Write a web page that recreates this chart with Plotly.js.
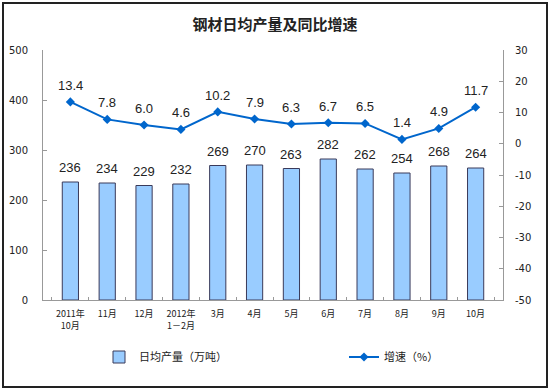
<!DOCTYPE html>
<html>
<head>
<meta charset="utf-8">
<script src="https://cdn.plot.ly/plotly-3.0.1.min.js"></script>
<style>html,body{margin:0;padding:0;background:#fff;}#chart{width:550px;height:391px;}</style>
</head>
<body>
<div id="chart"></div>
<script>
const categories = ["2011年<br>10月","11月","12月","2012年<br>1－2月","3月","4月","5月","6月","7月","8月","9月","10月"];
const output = [236,234,229,232,269,270,263,282,262,254,268,264];
const growth = [13.4,7.8,6.0,4.6,10.2,7.9,6.3,6.7,6.5,1.4,4.9,11.7];
const outputName = "日均产量（万吨）";
const growthName = "增速（%）";
const leftTickVals = [0,100,200,300,400,500];
const rightTickVals = [-50,-40,-30,-20,-10,0,10,20,30];
const rightTickText = ["-50","-40","-30","-20","-10","0","10","20","30"];

const numFont = "Arial, 'Liberation Sans', sans-serif";
const tickFont = "Tahoma, 'DejaVu Sans', sans-serif";
const cjkFont = "'Noto Sans CJK SC', sans-serif";

const traces = [
  {
    type: "bar", x: categories, y: output, name: outputName, yaxis: "y",
    width: 0.44, legend: "legend",
    marker: {color: "#99CCFF", line: {color: "#3A3A5A", width: 1}},
    hoverinfo: "none"
  },
  {
    type: "scatter", mode: "lines+markers", x: categories, y: growth, name: growthName, yaxis: "y2",
    legend: "legend2",
    line: {color: "#0066CC", width: 2},
    marker: {symbol: "diamond", size: 7, color: "#0066CC"},
    hoverinfo: "none"
  }
];

const annotations = [];
categories.forEach((c, i) => {
  annotations.push({x: c, y: output[i], xref: "x", yref: "y", text: String(output[i]),
    showarrow: false, yanchor: "bottom", yshift: 5, font: {family: numFont, size: 13, color: "#222"}});
  annotations.push({x: c, y: growth[i], xref: "x", yref: "y2", text: growth[i].toFixed(1),
    showarrow: false, yanchor: "bottom", yshift: 7, font: {family: numFont, size: 13, color: "#222"}});
});

const legendFont = {family: cjkFont, size: 11, color: "#222"};

const layout = {
  width: 550, height: 391,
  margin: {l: 43, r: 47, t: 50, b: 91},
  paper_bgcolor: "#fff", plot_bgcolor: "#fff",
  title: {text: "钢材日均产量及同比增速", xref: "container", x: 0.5, xanchor: "center",
    yref: "container", y: 1 - 25 / 391, yanchor: "middle",
    font: {family: cjkFont, size: 15, color: "#222", weight: "bold"}},
  showlegend: true,
  legend: {orientation: "h", xref: "container", x: 99 / 550, xanchor: "left",
    yref: "container", y: 1 - 357 / 391, yanchor: "middle", font: legendFont, bgcolor: "rgba(0,0,0,0)"},
  legend2: {orientation: "h", xref: "container", x: 344 / 550, xanchor: "left",
    yref: "container", y: 1 - 357 / 391, yanchor: "middle", font: legendFont, bgcolor: "rgba(0,0,0,0)"},
  xaxis: {type: "category", showline: true, linecolor: "#999", linewidth: 1, automargin: false,
    ticks: "inside", tickson: "boundaries", ticklen: 3, tickcolor: "#999", tickangle: 0,
    ticklabelstandoff: 5,
    tickfont: {family: cjkFont, size: 9, color: "#222"}, showgrid: false, zeroline: false},
  yaxis: {range: [0, 500], tickvals: leftTickVals, showline: true, linecolor: "#999", linewidth: 1,
    ticks: "inside", ticklen: 4, tickcolor: "#999", showgrid: false, zeroline: false, automargin: false,
    tickfont: {family: tickFont, size: 10, color: "#222"}, ticklabelstandoff: 12},
  yaxis2: {range: [-50, 30], tickvals: rightTickVals, ticktext: rightTickText, overlaying: "y", side: "right",
    showline: true, automargin: false,
    linecolor: "#999", linewidth: 1, ticks: "inside", ticklen: 4, tickcolor: "#999",
    showgrid: false, zeroline: false,
    tickfont: {family: tickFont, size: 10, color: "#222"}, ticklabelstandoff: 9},
  annotations: annotations,
  shapes: [{type: "rect", xref: "paper", yref: "paper",
    x0: (3 - 43) / 460, x1: (547 - 43) / 460, y0: (300 - 387) / 250, y1: (300 - 3) / 250,
    line: {color: "#222", width: 2}, fillcolor: "rgba(0,0,0,0)", layer: "below"}]
};

Plotly.newPlot("chart", traces, layout, {displayModeBar: false, staticPlot: true});
</script>
</body>
</html>
